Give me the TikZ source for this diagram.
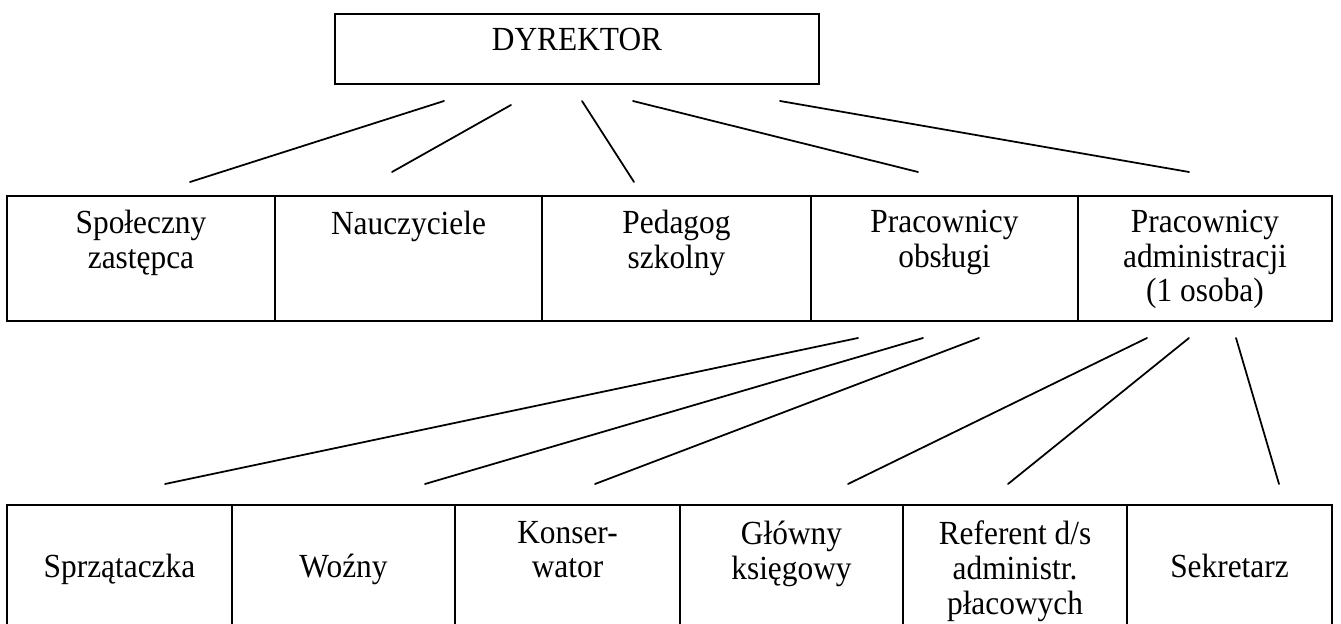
\documentclass[tikz,border=0pt]{standalone}
\usepackage{fontspec}
\setmainfont{Liberation Serif}[FakeStretch=0.93]
\usetikzlibrary{positioning}
\tikzset{
  cell/.style={draw, line width=0.9pt, inner sep=0pt},
  lbl/.style={align=center, inner sep=0pt, font=\fontsize{19.2}{19.8}\selectfont, execute at begin node=\strut},
  conn/.style={line width=1pt, line cap=round}
}
\begin{document}
\begin{tikzpicture}[x=0.02cm,y=-0.02cm]
  \useasboundingbox (0,0) rectangle (1341,624);
  % dyrektor
  \node[cell, minimum width=9.68cm, minimum height=1.4cm] (dyr) at (577,49) {};
  \node[lbl, below=0.26cm of dyr.north] {DYREKTOR};
  % middle row
  \node[cell, minimum width=5.36cm, minimum height=2.5cm] (spol) at (141,258.5) {};
  \node[cell, minimum width=5.34cm, minimum height=2.5cm] (naucz) at (408.5,258.5) {};
  \node[cell, minimum width=5.38cm, minimum height=2.5cm] (ped) at (676.5,258.5) {};
  \node[cell, minimum width=5.34cm, minimum height=2.5cm] (obsl) at (944.5,258.5) {};
  \node[cell, minimum width=5.08cm, minimum height=2.5cm] (adm) at (1205,258.5) {};
  \node[lbl, below=0.29cm of spol.north] {Społeczny\\zastępca};
  \node[lbl, below=0.29cm of naucz.north] {Nauczyciele};
  \node[lbl, below=0.29cm of ped.north] {Pedagog\\szkolny};
  \node[lbl, below=0.29cm of obsl.north] {Pracownicy\\obsługi};
  \node[lbl, below=0.29cm of adm.north] {Pracownicy\\administracji\\(1 osoba)};
  % bottom row
  \node[cell, minimum width=4.5cm, minimum height=2.6cm] (sprz) at (119.5,570) {};
  \node[cell, minimum width=4.46cm, minimum height=2.6cm] (wozny) at (343.5,570) {};
  \node[cell, minimum width=4.5cm, minimum height=2.6cm] (kons) at (567.5,570) {};
  \node[cell, minimum width=4.46cm, minimum height=2.6cm] (ksieg) at (791.5,570) {};
  \node[cell, minimum width=4.48cm, minimum height=2.6cm] (ref) at (1015,570) {};
  \node[cell, minimum width=4.1cm, minimum height=2.6cm] (sekr) at (1229.5,570) {};
  \node[lbl, below=0.97cm of sprz.north] {Sprzątaczka};
  \node[lbl, below=0.97cm of wozny.north] {Woźny};
  \node[lbl, below=0.33cm of kons.north] {Konser-\\wator};
  \node[lbl, below=0.33cm of ksieg.north] {Główny\\księgowy};
  \node[lbl, below=0.33cm of ref.north] {Referent d/s\\administr.\\płacowych};
  \node[lbl, below=0.97cm of sekr.north] {Sekretarz};
  % connector ends
  \coordinate (d1) at (444,101); \coordinate (e1) at (190,182);
  \coordinate (d2) at (511,105); \coordinate (e2) at (392,172);
  \coordinate (d3) at (582,101); \coordinate (e3) at (634,182);
  \coordinate (d4) at (633,101); \coordinate (e4) at (918,172);
  \coordinate (d5) at (780,101); \coordinate (e5) at (1189,172);
  \coordinate (o1) at (858,338); \coordinate (f1) at (165,484);
  \coordinate (o2) at (923,338); \coordinate (f2) at (425,484);
  \coordinate (o3) at (979,338); \coordinate (f3) at (595,484);
  \coordinate (a1) at (1147,338); \coordinate (g1) at (848,484);
  \coordinate (a2) at (1189,338); \coordinate (g2) at (1008,484);
  \coordinate (a3) at (1236,338); \coordinate (g3) at (1279,484);
  \foreach \s/\t in {d1/e1,d2/e2,d3/e3,d4/e4,d5/e5,o1/f1,o2/f2,o3/f3,a1/g1,a2/g2,a3/g3}
    \draw[conn] (\s) -- (\t);
\end{tikzpicture}
\end{document}
